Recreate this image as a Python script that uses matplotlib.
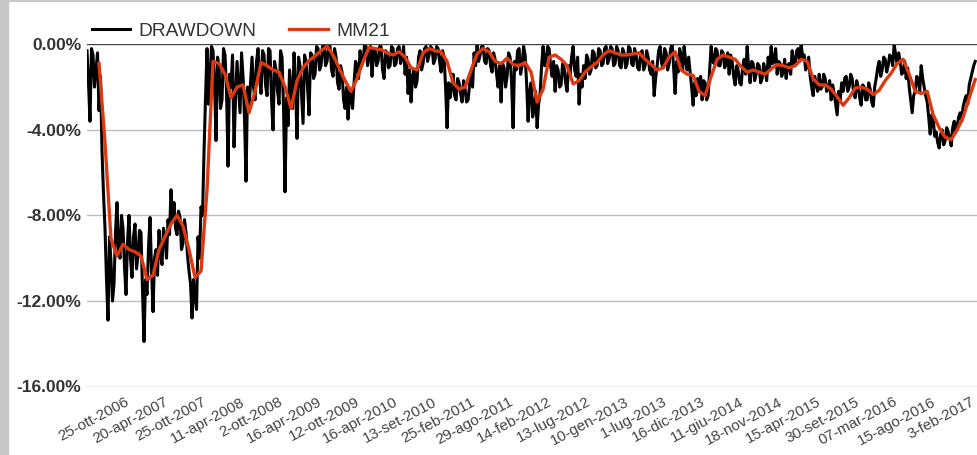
import numpy as np
import matplotlib
matplotlib.use('Agg')
from matplotlib import pyplot as plt
from matplotlib.ticker import FuncFormatter
from matplotlib.patches import Rectangle
from matplotlib.lines import Line2D

# Drawdown (%), one value every ~5 trading days
drawdown = [
    -0.3, -1.8, -3.6, -0.2, -0.5, -2.0, -1.2, -0.4, -3.1, -1.5,
    -5.0, -7.0, -8.6, -11.0, -12.9, -9.0, -10.2, -12.0, -11.2, -8.8,
    -7.4, -9.6, -10.0, -8.0, -8.6, -10.4, -11.7, -9.2, -8.0, -10.0,
    -10.9, -9.0, -8.4, -10.5, -9.9, -8.7, -8.8, -11.5, -13.9, -11.0,
    -11.7, -9.5, -8.1, -10.5, -12.5, -10.0, -9.6, -10.8, -8.7, -9.8,
    -10.3, -8.6, -9.0, -10.0, -8.2, -8.9, -6.8, -8.2, -7.4, -8.6,
    -8.9, -7.8, -8.1, -9.6, -9.3, -8.2, -8.8, -9.9, -10.6, -11.2,
    -12.8, -11.0, -11.8, -12.4, -9.0, -10.0, -7.6, -8.0, -5.0, -2.5,
    -0.2, -2.8, -1.5, -0.1, -0.3, -1.8, -4.5, -0.6, -1.0, -3.0,
    -2.6, -0.2, -0.5, -2.2, -5.7, -1.4, -2.0, -0.5, -4.8, -2.5,
    -0.8, -2.0, -3.2, -0.4, -1.5, -3.5, -6.4, -2.0, -3.0, -1.8,
    -0.6, -2.0, -2.6, -0.8, -0.2, -1.6, -2.3, -0.3, -0.5, -1.9,
    -2.4, -0.2, -0.3, -2.6, -4.0, -0.8, -1.2, -2.2, -2.8, -0.3,
    -0.6, -3.0, -6.9, -2.5, -3.8, -1.2, -2.2, -3.0, -0.4, -2.0,
    -4.4, -0.6, -1.0, -2.4, -3.7, -0.5, -0.8, -2.0, -3.3, -0.4,
    -0.5, -1.6, -1.4, -0.1, -0.2, -1.2, -1.0, -0.1, 0.0, -1.0,
    -0.8, 0.0, -0.1, -1.2, -1.5, -0.2, -0.6, -1.8, -2.1, -1.0,
    -1.3, -2.6, -3.0, -2.0, -3.5, -2.2, -2.4, -3.0, -1.8, -0.8,
    -1.0, -1.6, -0.3, -1.0, -0.8, 0.0, -0.1, -1.0, -0.5, -0.1,
    -1.5, -0.3, -0.2, -1.0, -0.8, -0.1, -0.1, -1.2, -1.6, -0.3,
    -0.4, -1.1, -1.0, -0.1, -0.2, -1.0, -0.9, -0.2, -0.1, -0.9,
    -0.6, -0.1, -1.4, -0.6, -2.3, -1.2, -2.7, -1.5, -1.2, -2.0,
    -1.7, -0.6, -0.3, -1.2, -0.9, -0.2, -0.1, -0.8, -0.5, -0.1,
    -0.2, -0.9, -0.7, -0.1, -0.2, -0.8, -1.3, -0.3, -0.6, -2.0,
    -3.9, -1.8, -2.5, -2.0, -1.4, -2.4, -2.6, -1.6, -1.8, -2.3,
    -2.7, -1.7, -2.1, -2.7, -2.6, -1.9, -1.3, -2.0, -0.4, -1.0,
    0.0, -0.8, -0.5, -0.1, -0.1, -0.8, -0.9, -0.2, -0.3, -1.0,
    -1.3, -0.4, -0.7, -1.4, -2.0, -1.0, -2.7, -0.9, -1.1, -2.0,
    -1.5, -0.4, -0.6, -1.8, -3.9, -0.8, -1.2, -0.3, -0.2, -1.4,
    -1.0, -0.1, -0.5, -1.8, -3.6, -2.2, -1.8, -3.4, -3.1, -2.2,
    -3.9, -2.8, -2.3, -1.0, -0.1, -1.0, -0.8, -0.1, -0.2, -1.0,
    -1.5, -0.8, -2.2, -1.0, -1.2, -2.0, -1.9, -0.9, -1.1, -1.8,
    -2.2, -1.0, -1.4, -0.6, -0.1, -1.2, -1.5, -0.6, -2.8, -1.4,
    -2.0, -1.0, -1.6, -0.5, -0.7, -1.4, -1.2, -0.3, -0.4, -1.1,
    -1.0, -0.2, -0.3, -1.0, -0.9, -0.2, -0.1, -0.9, -0.7, -0.1,
    -0.2, -1.0, -0.9, -0.1, -0.3, -1.0, -1.1, -0.2, -0.4, -1.1,
    -0.9, -0.1, -0.2, -0.9, -1.0, -0.2, -0.5, -1.1, -1.2, -0.4,
    -0.3, -1.2, -1.0, -0.3, -0.6, -1.2, -1.4, -0.8, -2.4, -1.6,
    -1.0, -0.3, -0.1, -0.9, -1.1, -0.2, -0.4, -1.2, -0.9, -0.2,
    0.0, -1.1, -2.3, -0.8, -1.3, -0.2, -0.5, -1.2, -0.1, -0.8,
    -1.2, -0.6, -1.3, -2.0, -2.85, -1.8, -2.4, -1.6, -2.2, -1.5,
    -2.6, -1.7, -1.8, -2.6, -2.4, -1.2, -0.1, -0.8, -0.9, -0.2,
    -0.3, -1.0, -1.0, -0.3, -0.4, -1.1, -0.9, -0.4, -1.4, -0.5,
    -0.8, -1.5, -1.9, -1.0, -1.2, -1.8, -1.9, -1.1, -0.7, -1.4,
    -0.1, -1.1, -1.8, -0.8, -0.9, -1.7, -1.4, -0.9, -1.0, -1.8,
    -1.6, -0.9, -1.2, -1.7, -0.6, -1.2, -0.1, -0.9, -0.8, -0.2,
    -1.4, -0.8, -0.9, -1.5, -1.3, -0.7, -1.6, -1.0, -0.9, -1.4,
    -0.3, -0.9, -1.0, -0.3, -0.2, -0.8, 0.0, -0.6, -0.5, -1.2,
    -1.0, -0.6, -1.5, -2.0, -2.4, -1.5, -1.8, -2.2, -1.4, -2.1,
    -2.0, -1.4, -1.6, -2.2, -2.1, -1.7, -2.6, -1.9, -2.3, -2.8,
    -3.3, -2.2, -2.6, -1.8, -2.2, -1.6, -1.5, -2.2, -2.0, -1.4,
    -1.6, -2.3, -2.5, -1.7, -2.0, -2.5, -2.85, -1.9, -2.0, -2.6,
    -2.6, -1.8, -2.1, -2.7, -2.9, -2.0, -1.6, -1.1, -0.8, -1.5,
    -1.2, -0.6, -0.7, -1.3, -1.0, -0.5, -0.6, -1.0, 0.0, -0.5,
    -0.9, -0.4, -0.8, -1.4, -1.3, -0.8, -1.6, -1.1, -2.0, -2.6,
    -3.2, -2.4, -2.2, -1.5, -1.6, -2.2, -1.0, -1.6, -2.0, -2.4,
    -2.7, -3.4, -4.2, -3.3, -3.5, -4.3, -4.1, -4.6, -4.85, -4.2,
    -4.0, -4.7, -4.5, -3.9, -4.1, -4.4, -4.75, -3.9, -3.6, -4.1,
    -3.8, -3.4, -3.2, -3.6, -2.9, -2.6, -2.4, -2.8, -1.9, -1.6,
    -1.3, -1.0, -0.8,
]

# 21-period moving average (%), one value every ~20 trading days
mm21_start = 4
mm21 = [
    -0.9, -4.6, -9.1, -9.9, -9.35, -9.6, -9.7, -9.9, -11.0, -10.8,
    -9.6, -9.0, -8.4, -8.0, -8.5, -9.6, -10.9, -10.6, -6.8, -0.8,
    -0.9, -1.4, -2.5, -2.0, -1.9, -3.2, -2.2, -0.85, -1.0, -1.2,
    -1.3, -2.0, -3.0, -1.7, -1.1, -0.75, -0.55, -0.3, -0.1, -0.5,
    -1.1, -1.7, -2.2, -1.6, -0.8, -0.15, -0.2, -0.25, -0.4, -0.5,
    -0.35, -0.6, -1.1, -1.2, -0.4, -0.2, -0.3, -0.35, -0.8, -1.8,
    -2.1, -2.0, -1.2, -0.45, -0.2, -0.35, -0.8, -0.9, -0.65, -0.95,
    -1.0, -0.85, -1.3, -2.7, -2.1, -0.6, -0.5, -0.7, -1.0, -1.85,
    -1.7, -1.3, -1.05, -0.85, -0.5, -0.3, -0.4, -0.5, -0.5, -0.45,
    -0.4, -0.7, -0.95, -1.2, -1.1, -0.6, -0.35, -1.2, -1.4, -1.45,
    -2.2, -2.4, -1.5, -0.7, -0.5, -0.6, -0.7, -1.05, -1.3, -1.2,
    -1.3, -1.4, -1.15, -0.95, -1.0, -1.1, -1.0, -0.7, -0.8, -1.6,
    -1.9, -1.9, -2.1, -2.45, -2.85, -2.5, -2.05, -2.0, -2.1, -2.35,
    -2.15, -1.7, -1.35, -0.9, -0.7, -1.4, -2.2, -2.3, -2.2, -3.3,
    -3.9, -4.35, -4.45, -4.0, -3.4, -2.5, -1.65,
]

tick_labels = ['25-ott-2006', '20-apr-2007', '25-ott-2007', '11-apr-2008',
               '2-ott-2008', '16-apr-2009', '12-ott-2009', '16-apr-2010',
               '13-set-2010', '25-feb-2011', '29-ago-2011', '14-feb-2012',
               '13-lug-2012', '10-gen-2013', '1-lug-2013', '16-dic-2013',
               '11-giu-2014', '18-nov-2014', '15-apr-2015', '30-set-2015',
               '07-mar-2016', '15-ago-2016', '3-feb-2017']
y_ticks = [0, -4, -8, -12, -16]

plt.rcParams['font.family'] = ['Liberation Sans', 'DejaVu Sans']

fig = plt.figure(figsize=(9.77, 4.55), dpi=100)
ax = fig.add_axes([87/977, 1 - 386.5/455, 1 - 87/977, (386.5 - 44.3)/455])

# bordo grigio a sinistra e in alto
fig.patches.append(Rectangle((0, 0), 8/977, 1, transform=fig.transFigure,
                             color='#c8c8c8', zorder=0))
fig.lines.append(Line2D([0, 1], [1 - 1/455, 1 - 1/455], transform=fig.transFigure,
                        color='#c8c8c8', lw=1.5))

x_dd = np.arange(len(drawdown)) / 2
x_mm = mm21_start + 2*np.arange(len(mm21))

ax.plot(x_dd, drawdown, color='black', lw=2.2, label='DRAWDOWN', zorder=3)
ax.plot(x_mm, mm21, color='#dc3912', lw=2.4, label='MM21', zorder=4)

ax.set_xlim(0, 296.6)
ax.set_ylim(-16, 0)

for v in y_ticks:
    ax.axhline(v, color='#bdbdbd' if v != 0 else '#444444', lw=1, zorder=1 if v != 0 else 5)

ax.set_yticks(y_ticks)
ax.yaxis.set_major_formatter(FuncFormatter(lambda v, p: '%.2f%%' % v))
ax.tick_params(axis='y', length=0, pad=4, labelsize=12.5, labelcolor='#333333')
for t in ax.get_yticklabels():
    t.set_fontweight('bold')

tick_pos = [12.7 + 12.8*i for i in range(len(tick_labels))]
ax.set_xticks(tick_pos)
ax.set_xticklabels(tick_labels, rotation=28, ha='right', rotation_mode='anchor',
                   fontsize=11, color='#444444')
ax.tick_params(axis='x', length=0, pad=6)

for s in ax.spines.values():
    s.set_visible(False)

ax.legend(loc='lower left', bbox_to_anchor=(0, 1.0), ncol=2, frameon=False,
          fontsize=13.8, handlelength=2.0, handletextpad=0.45, columnspacing=1.7,
          borderaxespad=0.05, borderpad=0.2, labelcolor='#333333')

fig.savefig('out.png', dpi=100)
